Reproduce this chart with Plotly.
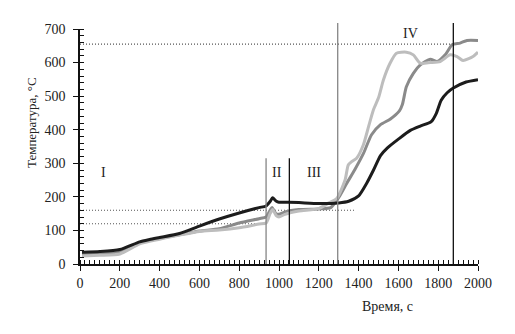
import plotly.graph_objects as go

# ---- data ----
t1 = [10, 100, 200, 300, 400, 500, 600, 700, 800, 900, 935, 955, 965, 985, 1000, 1030,
      1100, 1200, 1260, 1300, 1340, 1380, 1425, 1465, 1510, 1560, 1605, 1620, 1640, 1675,
      1710, 1760, 1795, 1835, 1870, 1910, 1945, 2000]
T1 = [28, 30, 35, 63, 76, 87, 98, 105, 122, 135, 140, 160, 168, 150, 148, 155,
      162, 164, 168, 198, 240, 280, 330, 385, 415, 432, 456, 475, 528, 568,
      593, 610, 603, 623, 653, 658, 666, 666]

t2 = [10, 100, 200, 300, 400, 500, 600, 700, 800, 900, 935, 955, 968, 985, 1000, 1030,
      1100, 1200, 1250, 1290, 1332, 1348, 1365, 1390, 1424, 1450, 1475, 1500, 1525, 1558,
      1590, 1640, 1675, 1710, 1760, 1810, 1860, 1895, 1925, 1975, 2000]
T2 = [24, 26, 30, 60, 74, 86, 97, 101, 108, 119, 122, 150, 162, 145, 140, 148,
      158, 165, 182, 195, 250, 295, 305, 315, 355, 409, 460, 495, 549, 598,
      628, 631, 623, 598, 600, 603, 623, 618, 606, 618, 631]

t3 = [10, 100, 200, 300, 350, 400, 500, 600, 700, 800, 900, 935, 955, 968, 985, 1000,
      1050, 1100, 1200, 1300, 1350, 1400, 1440, 1475, 1510, 1545, 1600, 1660, 1710, 1765,
      1790, 1815, 1845, 1876, 1940, 2000]
T3 = [35, 37, 43, 66, 73, 79, 91, 113, 134, 152, 168, 173, 186, 197, 188, 184,
      184, 183, 180, 182, 187, 203, 240, 280, 323, 346, 372, 398, 411, 424,
      448, 488, 510, 524, 542, 549]

series_names = ["1", "2", "3"]
series_colors = ["#8a8a8a", "#bdbdbd", "#1c1c1c"]

phase_x = [935, 1052, 1295, 1876]
phase_top = [315, 315, 718, 718]
phase_colors = ["#858585", "#111111", "#858585", "#111111"]

level_y = [655, 160, 120]
level_end = [1876, 1380, 935]

phase_labels = ["I", "II", "III", "IV"]
phase_label_x = [116, 990, 1176, 1663]
phase_label_y = [272, 272, 272, 686]

FONT = "Liberation Serif, Times New Roman, serif"

fig = go.Figure()
for t, T, c in zip([t1, t2, t3], [T1, T2, T3], series_colors):
    fig.add_trace(go.Scatter(x=t, y=T, mode="lines",
                             line=dict(color=c, width=3, shape="spline", smoothing=0.6),
                             showlegend=False, hoverinfo="skip"))

shapes = []
for xv, top, col in zip(phase_x, phase_top, phase_colors):
    shapes.append(dict(type="line", xref="x", yref="paper", x0=xv, x1=xv,
                       y0=0, y1=top / 700, line=dict(color=col, width=1.3), layer="above"))
for yv, xe in zip(level_y, level_end):
    shapes.append(dict(type="line", xref="x", yref="y", x0=0, x1=xe, y0=yv, y1=yv,
                       line=dict(color="#555555", width=1.1, dash="1px,2px"), layer="below"))

annotations = []
for lab, lx, ly in zip(phase_labels, phase_label_x, phase_label_y):
    annotations.append(dict(text=lab, x=lx, y=ly, xref="x", yref="y", showarrow=False,
                            font=dict(family=FONT, size=14, color="#222")))
curve_label_y = [666, 618, 543]
curve_label_txt = ["<i>1</i>", "2", "<i>3</i>"]
for txt, ly in zip(curve_label_txt, curve_label_y):
    annotations.append(dict(text=txt, x=2070, y=ly, xref="x", yref="y", showarrow=False,
                            font=dict(family=FONT, size=15, color="#222")))
annotations.append(dict(text="Температура, °С", x=-0.123, y=420, xref="paper", yref="y",
                        xanchor="center", yanchor="middle",
                        textangle=-90, showarrow=False,
                        font=dict(family=FONT, size=13, color="#222")))
annotations.append(dict(text="Время, с", x=1543, y=-0.179, xref="x", yref="paper",
                        xanchor="center", yanchor="middle",
                        showarrow=False, font=dict(family=FONT, size=14, color="#222")))

fig.update_layout(
    width=515, height=334,
    margin=dict(l=80, r=37, t=29, b=70),
    paper_bgcolor="white", plot_bgcolor="white",
    shapes=shapes, annotations=annotations,
    xaxis=dict(range=[0, 2000], dtick=200, showgrid=False, zeroline=False,
               showline=True, linecolor="#111", linewidth=1.6,
               ticks="outside", ticklen=5, tickwidth=1.4, tickcolor="#111",
               tickfont=dict(family=FONT, size=14, color="#222"),
               minor=dict(ticks="inside", ticklen=4, dtick=25, tickcolor="#111", tickwidth=1.4)),
    yaxis=dict(range=[0, 700], dtick=100, showgrid=False, zeroline=False,
               showline=True, linecolor="#111", linewidth=1.6,
               ticks="outside", ticklen=5, tickwidth=1.4, tickcolor="#111",
               ticklabelstandoff=5,
               tickfont=dict(family=FONT, size=14, color="#222"),
               minor=dict(ticks="inside", ticklen=4, dtick=20, tickcolor="#111", tickwidth=1.4)),
)

fig.write_html("out.html")
